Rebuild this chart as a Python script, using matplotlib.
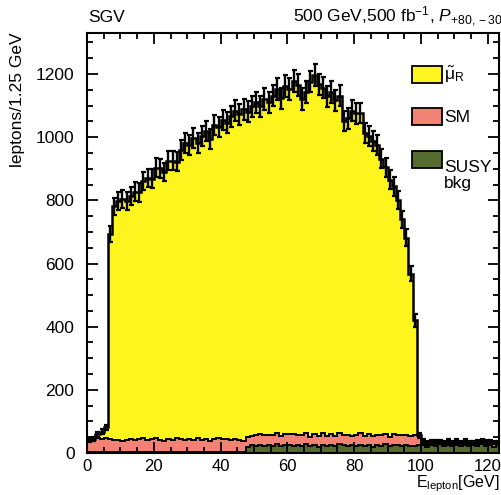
import matplotlib
matplotlib.use("Agg")
import matplotlib.pyplot as plt
from matplotlib.patches import Rectangle
import numpy as np

# lepton energy histogram, 1.25 GeV bins from 0 to 125 GeV
bin_width = 1.25
n_bins = 100

susy_bkg = [3, 2, 4, 3, 2, 3, 4, 2, 3, 3, 2, 4, 3, 2, 3, 3, 4, 2, 3, 3,
            2, 3, 4, 3, 2, 3, 3, 4, 2, 3, 3, 2, 4, 3, 3, 2, 4, 3,
            20, 24, 22, 26, 21, 25, 23, 27, 22, 24, 26, 21, 25, 23, 28, 22, 24, 20, 26, 23,
            25, 22, 27, 24, 21, 25, 23, 26, 22, 24, 20, 25, 23, 27, 22, 24, 26, 21, 25, 23,
            22, 26, 24, 20, 25, 23, 27, 21, 24, 22, 26, 23, 25, 21, 24, 22, 27, 23, 25, 20,
            24, 22]

sm_bkg = [38, 42, 45, 40, 44, 41, 37, 40, 36, 39, 42, 38, 41, 44, 37, 40, 43, 39, 36, 41,
          38, 44, 40, 37, 42, 39, 43, 38, 41, 36, 40, 44, 39, 42, 37, 41, 38, 35,
          32, 30, 35, 33, 36, 31, 34, 37, 32, 35, 33, 38, 31, 34, 36, 30, 35, 33, 37, 32,
          34, 31, 36, 33, 35, 30, 34, 37, 32, 36, 33, 31, 35, 34, 30, 36, 32, 35, 33, 31,
          34, 30,
          14, 12, 10, 13, 9, 11, 15, 10, 12, 8, 13, 11, 9, 14, 10, 12, 11, 13, 9, 12]

smuon_r = [0, 0, 10, 25, 35, 650, 740, 756, 766, 756,
           771, 786, 781, 816, 831, 826, 856, 861, 851, 881,
           886, 876, 916, 941, 931, 956, 936, 961, 976, 956,
           996, 986, 1011, 1001, 1026, 1041, 1031, 1051, 1029, 1044,
           1054, 1039, 1064, 1054, 1074, 1089, 1069, 1104, 1094, 1119,
           1109, 1064, 1079, 1124, 1139, 1114, 1094, 1074, 1084, 1064,
           1069, 994, 1004, 1029, 1019, 1014, 959, 944, 934, 919,
           874, 844, 814, 784, 744, 684, 624, 514, 364, 0,
           0, 0, 0, 0, 0, 0, 0, 0, 0, 0,
           0, 0, 0, 0, 0, 0, 0, 0, 0, 0]

plt.rcParams['font.family'] = ['Liberation Sans', 'DejaVu Sans']
plt.rcParams['mathtext.fontset'] = 'custom'
plt.rcParams['mathtext.rm'] = 'Liberation Sans'
plt.rcParams['mathtext.it'] = 'Liberation Sans:italic'
plt.rcParams['mathtext.bf'] = 'Liberation Sans:bold'

c_sig = '#fff51e'
c_sm = '#f28274'
c_susy = '#566b2f'

W, H = 502, 495
fig = plt.figure(figsize=(W / 100, H / 100), dpi=100)
ax = fig.add_axes([87 / W, 1 - 453 / H, (499 - 87) / W, (453 - 33) / H])

edges = np.arange(n_bins + 1) * bin_width
centers = edges[:-1] + bin_width / 2
susy = np.array(susy_bkg, float)
sm = np.array(sm_bkg, float)
sig = np.array(smuon_r, float)

lvl1 = susy
lvl2 = susy + sm
lvl3 = susy + sm + sig

ax.stairs(lvl3, edges, baseline=lvl2, fill=True, color=c_sig, lw=0)
ax.stairs(lvl2, edges, baseline=lvl1, fill=True, color=c_sm, lw=0)
ax.stairs(lvl1, edges, baseline=0, fill=True, color=c_susy, lw=0)
ax.stairs(lvl1, edges, baseline=None, color='k', lw=1.4)
ax.stairs(lvl2, edges, baseline=None, color='k', lw=1.4)
ax.stairs(lvl3, edges, baseline=None, color='k', lw=1.8)

# statistical errors on the stacked total
err = np.sqrt(lvl3)
ax.errorbar(centers, lvl3, yerr=err, fmt='none', ecolor='k', elinewidth=1.7,
            capsize=1.8, capthick=1.6)

ax.set_xlim(0, (499 - 87) / 3.34)
ax.set_ylim(0, 1330)
ax.set_xticks([0, 20, 40, 60, 80, 100, 120])
ax.set_yticks([0, 200, 400, 600, 800, 1000, 1200])
ax.set_xticks(np.arange(0, 125, 5), minor=True)
ax.set_yticks(np.arange(0, 1330, 50), minor=True)
ax.tick_params(which='both', direction='in', top=True, right=True, width=1.3,
               labelsize=12.5)
ax.tick_params(which='major', length=8)
ax.tick_params(which='minor', length=4)
ax.tick_params(axis='y', pad=9)
ax.tick_params(axis='x', pad=4, labelsize=12)
for s in ax.spines.values():
    s.set_linewidth(1.5)

fig.text(18 / W, 1 - 32 / H, 'leptons/1.25 GeV', rotation=90, ha='center', va='top',
         fontsize=12.5)
fig.text(500 / W, 1 - 494 / H, r'E$_{\mathrm{lepton}}$[GeV]', ha='right', va='bottom',
         fontsize=11.5)
fig.text(88 / W, 1 - 17 / H, 'SGV', ha='left', va='center', fontsize=12.5)
fig.text(293 / W, 1 - 17 / H, r'500 GeV,500 fb$^{-1}$, $P_{+80,-30}$', ha='left',
         va='center', fontsize=12.5)

# legend boxes
legend_items = [(c_sig, r'$\tilde{\mathrm{\mu}}_{\mathrm{R}}$', 66),
                (c_sm, 'SM', 108),
                (c_susy, 'SUSY\nbkg', 151)]
for col, lab, py in legend_items:
    fig.patches.append(Rectangle((412 / W, 1 - (py + 17) / H), 30 / W, 17 / H,
                                 transform=fig.transFigure, facecolor=col,
                                 edgecolor='k', lw=1.3))
    fig.text(444 / W, 1 - (py + 9) / H, lab, ha='left', va='top' if '\n' in lab else 'center',
             fontsize=12.5, linespacing=1.1)

fig.savefig('out.png', dpi=100)
